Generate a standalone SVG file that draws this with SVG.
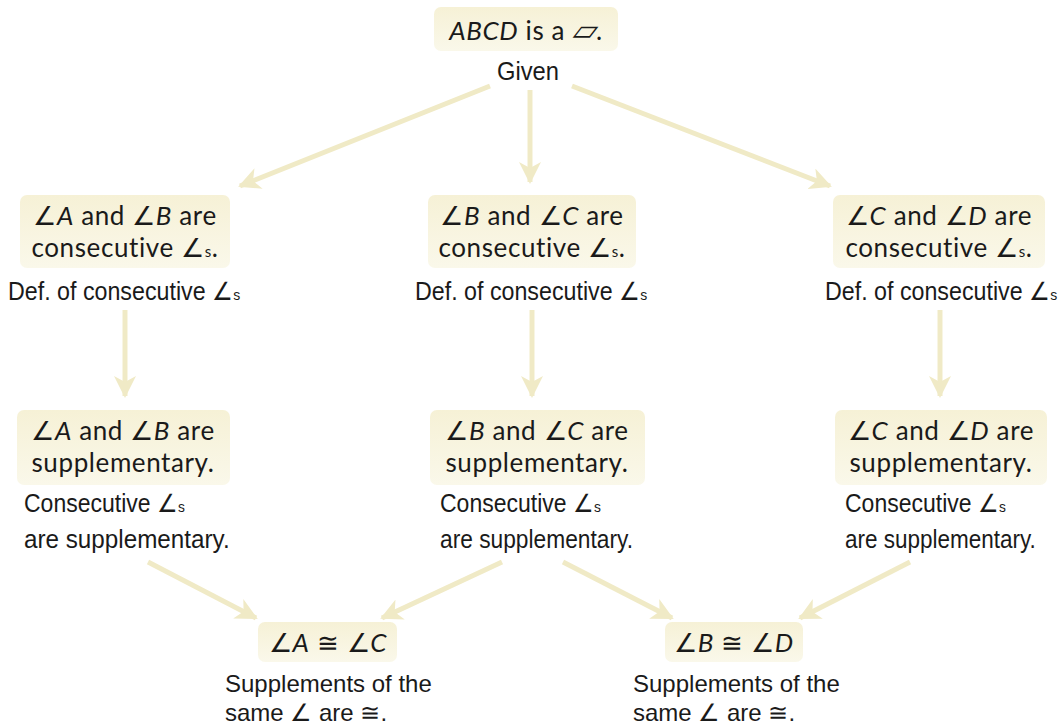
<svg xmlns="http://www.w3.org/2000/svg" width="1059" height="726" viewBox="0 0 1059 726">
<defs>
<linearGradient id="bg" x1="0" y1="0" x2="0" y2="1">
<stop offset="0" stop-color="#f6f1d6"/>
<stop offset="1" stop-color="#faf8ea"/>
</linearGradient>
<marker id="ah" markerUnits="userSpaceOnUse" markerWidth="24" markerHeight="22" refX="20" refY="11" orient="auto">
<path d="M0,0 L22,11 L0,22 L6,11 Z" fill="#f0eac6"/>
</marker>
<style>
.box{fill:url(#bg);}
.bt{font-family:Lato,"Liberation Sans",sans-serif;font-size:26px;letter-spacing:0.6px;fill:#1a1a1a;text-anchor:middle;}
.lb{font-family:"Liberation Sans",sans-serif;font-size:25px;fill:#1a1a1a;}
.lb2{font-family:"Liberation Sans",sans-serif;font-size:24px;fill:#1a1a1a;}
.i{font-style:italic;}
.c{stroke:#f0eac6;stroke-width:5;fill:none;marker-end:url(#ah);}
</style>
</defs>
<g id="connectors">
<line class="c" x1="490" y1="86" x2="240" y2="186"/>
<line class="c" x1="530" y1="90" x2="530" y2="182"/>
<line class="c" x1="572" y1="86" x2="830" y2="186"/>
<line class="c" x1="125" y1="310" x2="125" y2="396"/>
<line class="c" x1="532" y1="310" x2="532" y2="396"/>
<line class="c" x1="940" y1="310" x2="940" y2="396"/>
<line class="c" x1="148" y1="562" x2="256" y2="618"/>
<line class="c" x1="502" y1="562" x2="382" y2="618"/>
<line class="c" x1="563" y1="562" x2="672" y2="618"/>
<line class="c" x1="910" y1="562" x2="800" y2="618"/>
</g>
<g id="given">
<rect class="box" x="434" y="7" width="184" height="44" rx="7"/>
<text class="bt" x="526" y="40"><tspan class="i">ABCD</tspan> is a <tspan class="i" font-size="30">▱</tspan>.</text>
<text class="lb" transform="translate(528,80) scale(0.95,1)" text-anchor="middle">Given</text>
</g>
<g id="cons-ab">
<rect class="box" x="20" y="195" width="210" height="73" rx="7"/>
<text class="bt" x="125" y="225">∠<tspan class="i">A</tspan> and ∠<tspan class="i">B</tspan> are</text>
<text class="bt" x="125" y="257">consecutive ∠<tspan font-size="15">s</tspan>.</text>
<text class="lb" transform="translate(8,300) scale(0.93,1)">Def. of consecutive ∠<tspan font-size="15">s</tspan></text>
</g>
<g id="cons-bc">
<rect class="box" x="428" y="195" width="208" height="73" rx="7"/>
<text class="bt" x="532" y="225">∠<tspan class="i">B</tspan> and ∠<tspan class="i">C</tspan> are</text>
<text class="bt" x="532" y="257">consecutive ∠<tspan font-size="15">s</tspan>.</text>
<text class="lb" transform="translate(415,300) scale(0.93,1)">Def. of consecutive ∠<tspan font-size="15">s</tspan></text>
</g>
<g id="cons-cd">
<rect class="box" x="833" y="195" width="212" height="73" rx="7"/>
<text class="bt" x="939" y="225">∠<tspan class="i">C</tspan> and ∠<tspan class="i">D</tspan> are</text>
<text class="bt" x="939" y="257">consecutive ∠<tspan font-size="15">s</tspan>.</text>
<text class="lb" transform="translate(825,300) scale(0.93,1)">Def. of consecutive ∠<tspan font-size="15">s</tspan></text>
</g>
<g id="supp-ab">
<rect class="box" x="17" y="410" width="213" height="75" rx="7"/>
<text class="bt" x="123" y="440">∠<tspan class="i">A</tspan> and ∠<tspan class="i">B</tspan> are</text>
<text class="bt" x="123" y="472">supplementary.</text>
<text class="lb" transform="translate(24,512) scale(0.92,1)">Consecutive ∠<tspan font-size="15">s</tspan></text>
<text class="lb" transform="translate(24,548) scale(0.97,1)">are supplementary.</text>
</g>
<g id="supp-bc">
<rect class="box" x="430" y="410" width="215" height="75" rx="7"/>
<text class="bt" x="537" y="440">∠<tspan class="i">B</tspan> and ∠<tspan class="i">C</tspan> are</text>
<text class="bt" x="537" y="472">supplementary.</text>
<text class="lb" transform="translate(440,512) scale(0.92,1)">Consecutive ∠<tspan font-size="15">s</tspan></text>
<text class="lb" transform="translate(440,548) scale(0.91,1)">are supplementary.</text>
</g>
<g id="supp-cd">
<rect class="box" x="835" y="410" width="212" height="75" rx="7"/>
<text class="bt" x="941" y="440">∠<tspan class="i">C</tspan> and ∠<tspan class="i">D</tspan> are</text>
<text class="bt" x="941" y="472">supplementary.</text>
<text class="lb" transform="translate(845,512) scale(0.92,1)">Consecutive ∠<tspan font-size="15">s</tspan></text>
<text class="lb" transform="translate(845,548) scale(0.9,1)">are supplementary.</text>
</g>
<g id="cong-ac">
<rect class="box" x="258" y="622" width="139" height="40" rx="7"/>
<text class="bt" x="328" y="652">∠<tspan class="i">A</tspan> ≅ ∠<tspan class="i">C</tspan></text>
<text class="lb2" x="225" y="692">Supplements of the</text>
<text class="lb2" x="225" y="721">same ∠ are ≅.</text>
</g>
<g id="cong-bd">
<rect class="box" x="665" y="622" width="138" height="40" rx="7"/>
<text class="bt" x="734" y="652">∠<tspan class="i">B</tspan> ≅ ∠<tspan class="i">D</tspan></text>
<text class="lb2" x="633" y="692">Supplements of the</text>
<text class="lb2" x="633" y="721">same ∠ are ≅.</text>
</g>
</svg>
